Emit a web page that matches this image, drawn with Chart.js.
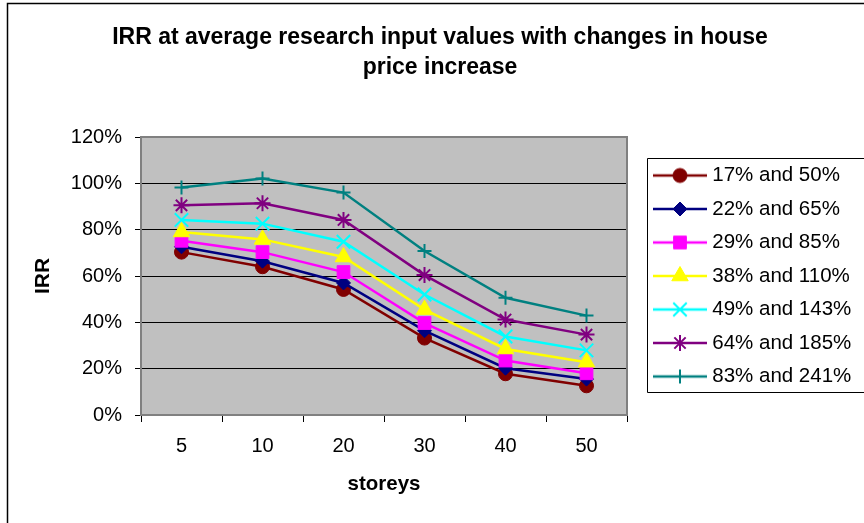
<!DOCTYPE html>
<html><head><meta charset="utf-8">
<script src="https://cdn.jsdelivr.net/npm/chart.js@4/dist/chart.umd.min.js"></script>
<style>html,body{margin:0;padding:0;background:#fff;overflow:hidden}</style>
</head><body>
<canvas id="c" width="864" height="523"></canvas>
<script>
// ---- data ----
const titleLines = ['IRR at average research input values with changes in house', 'price increase'];
const categories = ['5', '10', '20', '30', '40', '50'];
const seriesNames = ['17% and 50%', '22% and 65%', '29% and 85%', '38% and 110%', '49% and 143%', '64% and 185%', '83% and 241%'];
const s17 = [0.703, 0.640, 0.542, 0.332, 0.178, 0.126];
const s22 = [0.726, 0.664, 0.570, 0.364, 0.202, 0.155];
const s29 = [0.752, 0.703, 0.617, 0.397, 0.235, 0.180];
const s38 = [0.790, 0.758, 0.682, 0.455, 0.285, 0.228];
const s49 = [0.842, 0.826, 0.748, 0.520, 0.339, 0.279];
const s64 = [0.905, 0.914, 0.842, 0.604, 0.412, 0.347];
const s83 = [0.982, 1.021, 0.960, 0.708, 0.506, 0.429];
const yTickValues = [0, 0.2, 0.4, 0.6, 0.8, 1.0, 1.2];
const yTickLabels = ['0%', '20%', '40%', '60%', '80%', '100%', '120%'];
const xTitle = 'storeys';
const yTitle = 'IRR';

// ---- styles ----
const FONT = '"Liberation Sans", Arial, Helvetica, sans-serif';
const seriesData = [s17, s22, s29, s38, s49, s64, s83];
const colors = ['#800000', '#000080', '#FF00FF', '#FFFF00', '#00FFFF', '#800080', '#008080'];
const pStyles = ['circle', 'rectRot', 'rect', 'triangle', 'crossRot', 'star', 'cross'];
const pRadius = [7, 7, 9, 9.5, 9.5, 8, 7];
const pBorder = [1, 1, 1, 1, 2, 2, 2];

function makeIcon(i) {
  const cv = document.createElement('canvas');
  cv.width = 72; cv.height = 22;
  const g = cv.getContext('2d');
  g.strokeStyle = colors[i]; g.fillStyle = colors[i];
  g.lineWidth = 2.5;
  g.beginPath(); g.moveTo(18, 11); g.lineTo(72, 11); g.stroke();
  g.lineWidth = pBorder[i];
  if (Chart.helpers && Chart.helpers.drawPoint) {
    Chart.helpers.drawPoint(g, {pointStyle: pStyles[i], radius: pRadius[i], borderWidth: pBorder[i], rotation: 0}, 45, 11);
  } else {
    g.beginPath(); g.arc(45, 11, 6, 0, Math.PI * 2); g.fill();
  }
  return cv;
}
const legendIcons = seriesData.map((_, i) => makeIcon(i));

const datasets = seriesData.map((d, i) => ({
  label: seriesNames[i],
  data: d,
  borderColor: colors[i],
  backgroundColor: colors[i],
  borderWidth: 2.5,
  pointStyle: pStyles[i],
  pointRadius: pRadius[i],
  pointBorderWidth: pBorder[i],
  pointBackgroundColor: colors[i],
  pointBorderColor: colors[i],
  pointHoverRadius: pRadius[i],
  tension: 0,
  fill: false,
  order: seriesData.length - 1 - i
}));

const framePlugin = {
  id: 'frame',
  beforeLayout(chart) {
    const lg = chart.legend;
    if (lg && !lg._fixedW) {
      const orig = lg.fit.bind(lg);
      lg.fit = function () { orig(); this.width = 237; };
      lg._fixedW = true;
    }
  },
  beforeDraw(chart) {
    const {ctx, chartArea: a} = chart;
    ctx.save();
    ctx.fillStyle = '#fff';
    ctx.fillRect(0, 0, chart.width, chart.height);
    ctx.fillStyle = '#C0C0C0';
    ctx.fillRect(a.left, a.top, a.right - a.left, a.bottom - a.top);
    ctx.restore();
  },
  beforeDatasetsDraw(chart) {
    const {ctx, chartArea: a} = chart;
    ctx.save();
    ctx.strokeStyle = '#808080';
    ctx.lineWidth = 2;
    ctx.strokeRect(a.left, a.top, a.right - a.left, a.bottom - a.top);
    ctx.restore();
  },
  afterDraw(chart) {
    const ctx = chart.ctx;
    ctx.save();
    // outer chart frame (top and left edges visible)
    ctx.strokeStyle = '#000';
    ctx.lineWidth = 1.5;
    ctx.beginPath();
    ctx.moveTo(7.5, chart.height + 5);
    ctx.lineTo(7.5, 3.5);
    ctx.lineTo(chart.width + 5, 3.5);
    ctx.stroke();
    // legend box
    const lg = chart.legend;
    if (lg) {
      const colH = (lg.columnSizes && lg.columnSizes[0]) ? lg.columnSizes[0].height : 234;
      const pad = 13;
      const y0 = (lg.top + pad + lg.bottom - colH) / 2;
      const left = Math.round(lg.left + 20) + 0.5;
      const top = Math.round(y0 - 7) + 0.5;
      const bottom = Math.round(y0 + colH - 8) + 0.5;
      ctx.lineWidth = 1;
      ctx.strokeStyle = '#000';
      ctx.beginPath();
      ctx.moveTo(chart.width + 5, top);
      ctx.lineTo(left, top);
      ctx.lineTo(left, bottom);
      ctx.lineTo(chart.width + 5, bottom);
      ctx.stroke();
    }
    ctx.restore();
  }
};

new Chart(document.getElementById('c'), {
  type: 'line',
  data: {labels: categories, datasets},
  plugins: [framePlugin],
  options: {
    responsive: false,
    devicePixelRatio: 1,
    animation: false,
    layout: {padding: {left: 16, right: 0, top: 4, bottom: 0}},
    plugins: {
      title: {
        display: true,
        text: titleLines,
        color: '#000',
        font: {family: FONT, size: 23, weight: 'bold', lineHeight: 1.3},
        padding: {top: 19, bottom: 54.2}
      },
      legend: {
        display: true,
        position: 'right',
        align: 'center',
        fullSize: false,
        labels: {
          color: '#000',
          font: {family: FONT, size: 20.5},
          padding: 13,
          usePointStyle: true,
          pointStyleWidth: 62,
          sort: (a, b) => a.datasetIndex - b.datasetIndex,
          generateLabels(chart) {
            const items = Chart.defaults.plugins.legend.labels.generateLabels(chart);
            items.forEach(it => { it.pointStyle = legendIcons[it.datasetIndex]; it.lineWidth = 0; });
            return items;
          }
        }
      },
      tooltip: {enabled: false}
    },
    scales: {
      x: {
        type: 'category',
        offset: true,
        afterFit(s) { s.height = 108; },
        grid: {display: true, drawOnChartArea: false, offset: true, color: '#000', lineWidth: 1, tickLength: 7},
        border: {display: false},
        ticks: {color: '#000', font: {family: FONT, size: 20}, padding: 12, maxRotation: 0, autoSkip: false},
        title: {display: true, text: xTitle, color: '#000', font: {family: FONT, size: 20.5, weight: 'bold'}, padding: {top: 0, bottom: 26.7}}
      },
      y: {
        min: 0,
        max: 1.2,
        afterFit(s) { s.width = 125; },
        afterBuildTicks(s) { s.ticks = yTickValues.map(v => ({value: v})); },
        grid: {color: '#000', lineWidth: 1, tickLength: 6},
        border: {display: false},
        ticks: {
          color: '#000',
          font: {family: FONT, size: 20},
          padding: 13,
          callback: (v, idx) => yTickLabels[idx]
        },
        title: {display: true, text: yTitle, color: '#000', font: {family: FONT, size: 21, weight: 'bold'}, padding: {top: 15, bottom: 0}}
      }
    }
  }
});
</script>
</body></html>
